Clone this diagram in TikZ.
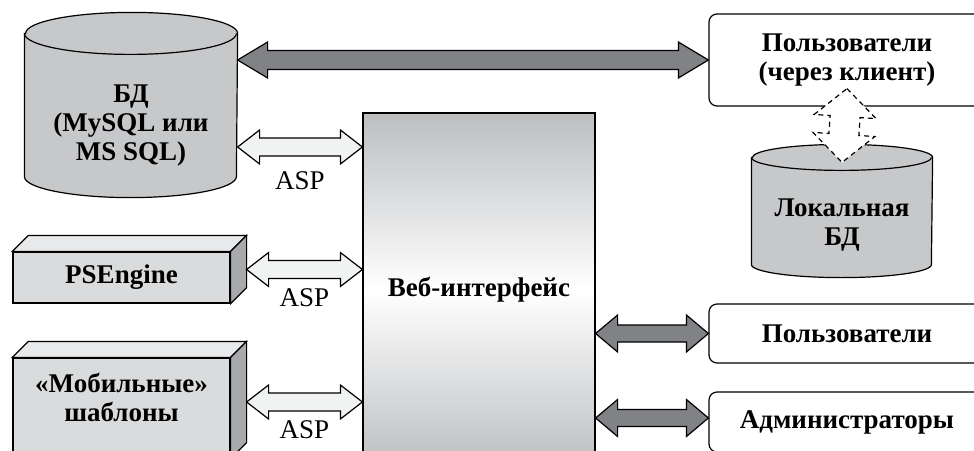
\documentclass[tikz,border=0pt]{standalone}
\usepackage{fontspec}
\setmainfont{Liberation Serif}
\usepackage{xcolor}
\definecolor{dbgray}{RGB}{199,200,202}
\definecolor{arrowdark}{RGB}{128,130,133}
\definecolor{arrowlight}{RGB}{241,242,242}
\definecolor{webgray}{RGB}{188,190,192}
\definecolor{boxfront}{RGB}{218,219,220}
\definecolor{boxtop}{RGB}{232,233,234}
\definecolor{boxside}{RGB}{167,169,172}
\usepackage{tikz}
\usetikzlibrary{positioning,calc}

\tikzset{
  lbl/.style={font=\bfseries\fontsize{27}{29}\selectfont,align=center},
  asp/.style={font=\fontsize{27}{29}\selectfont,inner sep=0pt},
  dbspace/.style={inner sep=0pt},
  modbox/.style={draw,fill=boxfront,minimum width=217,inner sep=0pt,lbl},
  userbox/.style={draw,fill=white,rounded corners=8pt,minimum width=276,inner sep=0pt,lbl},
  webbox/.style={draw,top color=webgray,bottom color=webgray,middle color=white,
    minimum width=232,minimum height=354,inner sep=0pt,lbl},
  darkarrow/.style={draw,fill=arrowdark,line join=miter},
  lightarrow/.style={draw,fill=arrowlight,line join=miter},
  dasharrow/.style={draw,fill=white,dash pattern=on 5pt off 4pt}
}

% cylinder round a node: node, x radius, y radius
\newcommand\dbcylinder[3]{%
  \filldraw[fill=dbgray] ([yshift=-#3]#1.north west) -- ([yshift=#3]#1.south west)
    arc[start angle=180,end angle=360,x radius=#2,y radius=#3]
    -- ([yshift=-#3]#1.north east)
    arc[start angle=0,end angle=180,x radius=#2,y radius=#3] -- cycle;
  \draw ([yshift=-#3]#1.north west) arc[start angle=180,end angle=360,x radius=#2,y radius=#3];}

% top and side faces of a box
\newcommand\cuboid[1]{%
  \filldraw[fill=boxtop] (#1.north west) -- ++(16,-16) -- ([shift={(16,-16)}]#1.north east) -- (#1.north east) -- cycle;
  \filldraw[fill=boxside] (#1.north east) -- ++(16,-16) -- ([shift={(16,-16)}]#1.south east) -- (#1.south east) -- cycle;}

% wide two-headed arrow: style, from, to, head length, head half width, shaft half width
\newcommand\fatarrow[6]{%
  \path ($#2!#4!#3$) coordinate (fa-a) ($#3!#4!#2$) coordinate (fa-b);
  \filldraw[#1] #2 -- ($(fa-a)!#5!90:#3$) -- ($(fa-a)!#6!90:#3$) -- ($(fa-b)!#6!-90:#2$)
    -- ($(fa-b)!#5!-90:#2$) -- #3 -- ($(fa-b)!#5!90:#2$) -- ($(fa-b)!#6!90:#2$)
    -- ($(fa-a)!#6!-90:#3$) -- ($(fa-a)!#5!-90:#3$) -- cycle;}

\begin{document}
\begin{tikzpicture}[x=1pt,y=-1pt,line width=1.2pt]
  \useasboundingbox (0,0) rectangle (974,450);
  \clip (0,0) rectangle (974,450);

  % databases
  \node[dbspace,minimum width=212,minimum height=184] (db) at (131,105) {};
  \dbcylinder{db}{106pt}{21pt}
  \node[lbl] (db-text) at ([yshift=-21pt]db.center) {БД\\(MySQL или\\MS SQL)};
  \node[dbspace,minimum width=180,minimum height=132] (loc) at (842,211) {};
  \dbcylinder{loc}{90pt}{13pt}
  \node[lbl] (loc-text) at ([yshift=-14pt]loc.center) {Локальная\\БД};

  % modules
  \node[modbox,minimum height=51] (ps) at (121.5,277.5) {PSEngine};
  \cuboid{ps}
  \node[modbox,minimum height=100] (mob) at (121.5,408) {};
  \cuboid{mob}
  \node[lbl] (mob-text) at ([yshift=11pt]mob.center) {«Мобильные»\\шаблоны};

  \node[webbox] (web) at (479,290) {Веб-интерфейс};

  % users
  \node[userbox,minimum height=92] (cl) at (847,60) {Пользователи\\(через клиент)};
  \node[userbox,minimum height=59] (us) at (847,333.5) {Пользователи};
  \node[userbox,minimum height=60] (adm) at (847,422) {Администраторы};

  \coordinate (asp1) at ([yshift=-42pt]db.east);
  \coordinate (asp2) at ([shift={(16,-8)}]ps.east);
  \coordinate (asp3) at ([shift={(16,-6)}]mob.east);
  \coordinate (admin) at ([yshift=4pt]adm.west);

  % connections
  \fatarrow{darkarrow}{(db.east |- cl.west)}{(cl.west)}{30pt}{18pt}{9.5pt}
  \fatarrow{lightarrow}{(asp1)}{(web.west |- asp1)}{22pt}{17pt}{9pt}
  \fatarrow{lightarrow}{(asp2)}{(web.west |- asp2)}{22pt}{17pt}{9pt}
  \fatarrow{lightarrow}{(asp3)}{(web.west |- asp3)}{22pt}{17pt}{9pt}
  \fatarrow{darkarrow}{(web.east |- us.west)}{(us.west)}{22pt}{18.5pt}{8.5pt}
  \fatarrow{darkarrow}{(web.east |- admin)}{(admin)}{22pt}{18.5pt}{8.5pt}
  \fatarrow{dasharrow}{([yshift=18pt]cl.south)}{([yshift=-18pt]loc.north)}{28pt}{31pt}{15pt}

  \node[asp] (asp-db) at ([yshift=-34pt]$(asp1)!.5!(web.west |- asp1)$) {ASP};
  \node[asp] (asp-ps) at ([yshift=-28pt]$(asp2)!.5!(web.west |- asp2)$) {ASP};
  \node[asp] (asp-mob) at ([yshift=-28pt]$(asp3)!.5!(web.west |- asp3)$) {ASP};
\end{tikzpicture}
\end{document}
